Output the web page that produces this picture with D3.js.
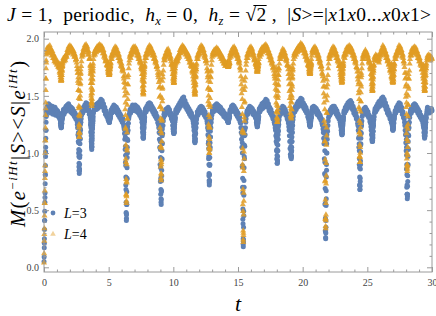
<!DOCTYPE html>
<html><head><meta charset="utf-8">
<script src="https://cdn.jsdelivr.net/npm/d3@7"></script>
<style>body{margin:0;background:#fff}svg{display:block}text{white-space:pre}</style>
</head><body><svg id="c" width="436" height="316"></svg>
<script>
// ---- data ----
const baseStep = 0.05; // base samples at t = 0, 0.05, ... 30 ; mid samples at t = 0.025, 0.075, ...
const valuesL3 = [
0.05,0.41,0.81,1.20,1.37,1.41,1.36,1.43,1.38,1.42,1.35,1.40,1.37,1.41,1.34,1.39,1.36,1.40,1.33,1.38,
1.34,1.37,1.32,1.35,1.31,1.29,1.24,1.23,1.30,1.35,1.38,1.34,1.39,1.36,1.41,1.37,1.42,1.38,1.43,1.39,
1.41,1.36,1.40,1.35,1.39,1.34,1.37,1.32,1.35,1.30,1.33,1.28,1.22,1.10,0.88,0.86,1.12,1.27,1.33,1.38,
1.35,1.40,1.37,1.42,1.39,1.44,1.40,1.43,1.37,1.40,1.34,1.36,1.25,1.10,1.06,1.22,1.32,1.37,1.41,1.38,
1.42,1.38,1.43,1.39,1.44,1.40,1.45,1.41,1.47,1.43,1.46,1.40,1.43,1.37,1.40,1.34,1.37,1.32,1.34,1.29,
1.31,1.27,1.30,1.34,1.38,1.35,1.40,1.37,1.42,1.38,1.41,1.36,1.40,1.35,1.38,1.33,1.36,1.31,1.34,1.29,
1.32,1.27,1.30,1.25,1.21,1.12,0.92,0.48,0.55,1.00,1.20,1.30,1.34,1.38,1.35,1.40,1.37,1.42,1.38,1.41,
1.37,1.42,1.38,1.41,1.36,1.40,1.35,1.38,1.33,1.36,1.31,1.30,1.22,1.14,1.16,1.28,1.35,1.39,1.36,1.41,
1.38,1.43,1.39,1.44,1.40,1.43,1.38,1.41,1.36,1.39,1.34,1.37,1.32,1.35,1.30,1.32,1.27,1.25,1.18,1.05,
0.75,0.57,0.80,1.08,1.24,1.31,1.36,1.33,1.38,1.35,1.39,1.36,1.40,1.35,1.38,1.33,1.35,1.30,1.31,1.24,
1.19,1.18,1.27,1.34,1.38,1.35,1.40,1.37,1.42,1.39,1.44,1.41,1.46,1.42,1.48,1.44,1.49,1.43,1.46,1.40,
1.43,1.38,1.41,1.36,1.39,1.34,1.37,1.32,1.35,1.31,1.30,1.26,1.20,1.11,1.12,1.22,1.30,1.36,1.33,1.38,
1.35,1.40,1.36,1.41,1.37,1.40,1.35,1.38,1.33,1.36,1.31,1.33,1.28,1.22,1.08,0.80,0.76,1.05,1.22,1.30,
1.35,1.39,1.36,1.41,1.37,1.42,1.38,1.43,1.39,1.42,1.37,1.41,1.36,1.40,1.35,1.38,1.34,1.37,1.32,1.35,
1.31,1.34,1.30,1.31,1.28,1.27,1.31,1.35,1.38,1.36,1.41,1.37,1.42,1.38,1.41,1.36,1.39,1.34,1.37,1.32,
1.35,1.30,1.33,1.28,1.26,1.18,1.05,0.70,0.20,0.45,0.95,1.16,1.27,1.33,1.37,1.34,1.39,1.36,1.41,1.37,
1.40,1.36,1.39,1.34,1.37,1.33,1.35,1.31,1.30,1.25,1.24,1.29,1.35,1.39,1.36,1.41,1.38,1.43,1.39,1.44,
1.40,1.45,1.41,1.47,1.43,1.46,1.40,1.43,1.37,1.40,1.35,1.38,1.33,1.35,1.30,1.32,1.27,1.25,1.20,1.10,
0.95,0.93,1.12,1.25,1.32,1.37,1.34,1.39,1.36,1.41,1.37,1.40,1.35,1.38,1.33,1.35,1.30,1.31,1.26,1.20,
1.10,0.99,0.96,1.02,1.18,1.29,1.35,1.39,1.36,1.41,1.38,1.43,1.40,1.45,1.41,1.46,1.43,1.48,1.44,1.47,
1.41,1.44,1.39,1.42,1.37,1.40,1.35,1.37,1.32,1.31,1.27,1.24,1.25,1.31,1.36,1.40,1.37,1.41,1.38,1.40,
1.36,1.39,1.34,1.37,1.33,1.35,1.31,1.33,1.29,1.30,1.26,1.24,1.18,1.08,0.82,0.32,0.35,0.85,1.12,1.24,
1.31,1.36,1.33,1.38,1.35,1.40,1.36,1.41,1.37,1.41,1.36,1.39,1.34,1.37,1.32,1.34,1.30,1.31,1.27,1.23,
1.18,1.17,1.24,1.32,1.37,1.35,1.40,1.37,1.42,1.39,1.44,1.40,1.45,1.41,1.46,1.42,1.44,1.38,1.41,1.35,
1.38,1.33,1.35,1.30,1.31,1.26,1.20,1.05,0.72,0.75,1.08,1.24,1.32,1.37,1.34,1.39,1.36,1.40,1.35,1.38,
1.33,1.36,1.31,1.33,1.28,1.26,1.20,1.12,1.11,1.19,1.29,1.35,1.39,1.36,1.41,1.38,1.43,1.40,1.45,1.41,
1.46,1.42,1.48,1.44,1.49,1.44,1.47,1.41,1.44,1.38,1.41,1.35,1.38,1.33,1.35,1.30,1.31,1.27,1.26,1.21,
1.21,1.26,1.33,1.37,1.35,1.40,1.37,1.42,1.39,1.44,1.40,1.43,1.37,1.40,1.34,1.36,1.31,1.30,1.24,1.16,
1.02,0.70,0.62,0.90,1.15,1.27,1.34,1.38,1.35,1.40,1.37,1.42,1.38,1.43,1.39,1.42,1.37,1.40,1.35,1.38,
1.33,1.36,1.31,1.33,1.29,1.30,1.26,1.22,1.15,1.15,1.22,1.31,1.36,1.40,1.37,1.39,1.35,1.38,1.36,1.39,
1.37];
const midValuesL3 = [
0.21,0.61,1.01,1.33,1.39,1.38,1.40,1.40,1.40,1.38,1.37,1.39,1.39,1.37,1.36,1.38,1.38,1.36,1.35,1.36,
1.35,1.34,1.33,1.33,1.30,1.26,1.22,1.26,1.33,1.36,1.36,1.37,1.37,1.39,1.39,1.40,1.40,1.41,1.41,1.40,
1.38,1.38,1.37,1.37,1.36,1.35,1.34,1.33,1.32,1.31,1.30,1.25,1.16,1.00,0.84,0.98,1.20,1.30,1.36,1.36,
1.38,1.38,1.40,1.40,1.41,1.42,1.41,1.40,1.39,1.37,1.35,1.31,1.18,1.06,1.13,1.28,1.35,1.39,1.39,1.40,
1.40,1.41,1.41,1.42,1.42,1.43,1.43,1.44,1.45,1.45,1.43,1.42,1.40,1.39,1.37,1.36,1.35,1.33,1.31,1.30,
1.29,1.28,1.32,1.36,1.37,1.38,1.39,1.40,1.40,1.40,1.39,1.38,1.38,1.37,1.36,1.35,1.34,1.33,1.32,1.31,
1.30,1.29,1.28,1.23,1.17,1.03,0.72,0.43,0.78,1.11,1.26,1.32,1.36,1.37,1.38,1.39,1.40,1.40,1.40,1.39,
1.40,1.40,1.40,1.39,1.38,1.38,1.37,1.36,1.35,1.34,1.31,1.27,1.18,1.13,1.22,1.32,1.37,1.38,1.39,1.40,
1.41,1.41,1.42,1.42,1.42,1.41,1.40,1.39,1.38,1.37,1.36,1.35,1.34,1.33,1.31,1.30,1.26,1.22,1.12,0.90,
0.64,0.66,0.95,1.17,1.28,1.34,1.35,1.36,1.37,1.37,1.38,1.38,1.38,1.37,1.36,1.34,1.33,1.31,1.28,1.21,
1.17,1.22,1.31,1.36,1.37,1.38,1.39,1.40,1.41,1.42,1.43,1.44,1.44,1.45,1.46,1.47,1.46,1.45,1.43,1.42,
1.41,1.40,1.39,1.38,1.37,1.36,1.35,1.34,1.33,1.31,1.28,1.23,1.15,1.10,1.17,1.26,1.33,1.35,1.36,1.37,
1.38,1.38,1.39,1.39,1.39,1.38,1.37,1.36,1.35,1.34,1.32,1.31,1.26,1.16,0.95,0.74,0.90,1.14,1.27,1.33,
1.37,1.38,1.39,1.39,1.40,1.40,1.41,1.41,1.41,1.40,1.39,1.39,1.38,1.38,1.37,1.36,1.35,1.35,1.34,1.33,
1.32,1.32,1.30,1.29,1.27,1.29,1.33,1.37,1.37,1.38,1.39,1.40,1.40,1.40,1.39,1.38,1.37,1.36,1.35,1.34,
1.33,1.32,1.31,1.27,1.22,1.12,0.88,0.42,0.22,0.70,1.06,1.22,1.30,1.35,1.36,1.37,1.38,1.39,1.39,1.39,
1.38,1.38,1.37,1.36,1.35,1.34,1.33,1.31,1.27,1.23,1.26,1.32,1.37,1.38,1.39,1.40,1.41,1.41,1.42,1.42,
1.43,1.43,1.44,1.45,1.45,1.43,1.42,1.40,1.39,1.37,1.37,1.35,1.34,1.32,1.31,1.29,1.26,1.22,1.15,1.02,
0.91,1.02,1.19,1.29,1.35,1.36,1.37,1.38,1.39,1.39,1.38,1.38,1.37,1.36,1.34,1.33,1.31,1.28,1.23,1.15,
1.04,0.97,0.98,1.10,1.24,1.32,1.37,1.38,1.39,1.40,1.41,1.42,1.43,1.43,1.44,1.45,1.46,1.46,1.45,1.44,
1.43,1.42,1.41,1.40,1.39,1.38,1.36,1.35,1.31,1.29,1.25,1.24,1.28,1.34,1.38,1.39,1.39,1.40,1.39,1.38,
1.38,1.37,1.36,1.35,1.34,1.33,1.32,1.31,1.30,1.28,1.25,1.21,1.13,0.95,0.55,0.26,0.60,1.00,1.19,1.28,
1.34,1.35,1.36,1.37,1.38,1.38,1.39,1.39,1.39,1.39,1.38,1.37,1.36,1.35,1.33,1.32,1.31,1.29,1.25,1.20,
1.16,1.20,1.28,1.35,1.36,1.38,1.39,1.40,1.41,1.42,1.42,1.43,1.43,1.44,1.44,1.43,1.41,1.40,1.38,1.37,
1.36,1.34,1.33,1.31,1.29,1.24,1.13,0.90,0.68,0.90,1.17,1.28,1.35,1.36,1.37,1.38,1.38,1.38,1.37,1.36,
1.35,1.34,1.32,1.31,1.27,1.23,1.16,1.10,1.14,1.24,1.32,1.37,1.38,1.39,1.40,1.41,1.42,1.43,1.43,1.44,
1.44,1.45,1.46,1.47,1.47,1.46,1.44,1.43,1.41,1.40,1.38,1.37,1.36,1.34,1.33,1.31,1.29,1.27,1.24,1.20,
1.23,1.30,1.35,1.36,1.38,1.39,1.40,1.41,1.42,1.42,1.42,1.40,1.39,1.37,1.35,1.34,1.31,1.27,1.20,1.09,
0.86,0.64,0.75,1.03,1.22,1.31,1.36,1.37,1.38,1.39,1.40,1.40,1.41,1.41,1.41,1.40,1.39,1.38,1.37,1.36,
1.35,1.34,1.32,1.31,1.30,1.28,1.24,1.18,1.13,1.18,1.27,1.34,1.38,1.38,1.38,1.37,1.37,1.37,1.38,1.38];
const valuesL4 = [
0.04,0.56,1.11,1.65,1.88,1.92,1.87,1.93,1.89,1.94,1.88,1.91,1.85,1.89,1.83,1.86,1.80,1.84,1.79,1.81,
1.77,1.80,1.75,1.76,1.71,1.68,1.64,1.64,1.72,1.79,1.83,1.80,1.84,1.81,1.86,1.84,1.90,1.87,1.93,1.89,
1.94,1.90,1.93,1.88,1.91,1.86,1.89,1.84,1.86,1.81,1.82,1.76,1.70,1.55,1.22,1.18,1.50,1.70,1.80,1.87,
1.85,1.91,1.88,1.94,1.90,1.95,1.90,1.93,1.86,1.89,1.82,1.82,1.70,1.50,1.45,1.65,1.78,1.85,1.89,1.86,
1.91,1.88,1.93,1.89,1.94,1.90,1.95,1.91,1.94,1.90,1.93,1.87,1.90,1.84,1.86,1.80,1.82,1.77,1.76,1.71,
1.70,1.68,1.73,1.79,1.85,1.82,1.88,1.85,1.91,1.87,1.93,1.88,1.92,1.86,1.89,1.83,1.86,1.80,1.82,1.76,
1.78,1.72,1.74,1.67,1.62,1.50,1.22,0.64,0.74,1.30,1.60,1.74,1.81,1.86,1.83,1.89,1.86,1.92,1.88,1.93,
1.89,1.93,1.88,1.91,1.85,1.88,1.82,1.85,1.79,1.81,1.75,1.73,1.64,1.53,1.55,1.70,1.80,1.86,1.83,1.89,
1.86,1.92,1.88,1.94,1.90,1.93,1.87,1.90,1.85,1.88,1.82,1.85,1.79,1.81,1.75,1.76,1.70,1.66,1.57,1.40,
1.05,0.78,1.10,1.45,1.66,1.77,1.84,1.81,1.87,1.84,1.90,1.86,1.91,1.85,1.88,1.82,1.84,1.77,1.77,1.69,
1.63,1.62,1.70,1.78,1.82,1.79,1.83,1.80,1.86,1.84,1.90,1.87,1.92,1.89,1.94,1.90,1.93,1.88,1.91,1.86,
1.89,1.84,1.87,1.82,1.85,1.79,1.82,1.76,1.78,1.72,1.70,1.64,1.58,1.52,1.54,1.67,1.78,1.85,1.82,1.88,
1.86,1.92,1.89,1.94,1.90,1.93,1.87,1.90,1.84,1.86,1.80,1.81,1.74,1.66,1.45,1.08,1.03,1.42,1.66,1.77,
1.84,1.88,1.85,1.90,1.86,1.91,1.87,1.92,1.88,1.91,1.86,1.89,1.84,1.87,1.82,1.85,1.80,1.83,1.78,1.80,
1.76,1.79,1.77,1.78,1.76,1.75,1.78,1.83,1.87,1.84,1.90,1.86,1.92,1.88,1.93,1.88,1.91,1.85,1.88,1.82,
1.85,1.79,1.81,1.75,1.72,1.60,1.40,0.90,0.24,0.58,1.28,1.58,1.72,1.80,1.86,1.83,1.89,1.86,1.92,1.88,
1.93,1.88,1.91,1.85,1.87,1.81,1.83,1.78,1.77,1.72,1.71,1.76,1.82,1.87,1.84,1.90,1.86,1.92,1.88,1.93,
1.89,1.94,1.90,1.95,1.91,1.93,1.87,1.90,1.84,1.87,1.81,1.84,1.78,1.80,1.74,1.75,1.69,1.65,1.56,1.44,
1.31,1.28,1.50,1.68,1.78,1.85,1.82,1.88,1.85,1.91,1.87,1.90,1.84,1.87,1.81,1.83,1.77,1.76,1.69,1.60,
1.48,1.35,1.31,1.38,1.58,1.73,1.82,1.87,1.84,1.89,1.86,1.91,1.88,1.93,1.89,1.94,1.91,1.96,1.92,1.95,
1.90,1.93,1.87,1.90,1.84,1.87,1.81,1.83,1.77,1.76,1.71,1.69,1.70,1.78,1.85,1.90,1.87,1.92,1.89,1.93,
1.88,1.91,1.85,1.88,1.82,1.85,1.79,1.81,1.75,1.76,1.70,1.67,1.58,1.44,1.10,0.42,0.46,1.15,1.50,1.68,
1.78,1.85,1.82,1.88,1.85,1.91,1.87,1.93,1.89,1.92,1.86,1.89,1.83,1.86,1.80,1.82,1.76,1.76,1.70,1.66,
1.63,1.62,1.70,1.80,1.86,1.83,1.89,1.86,1.92,1.88,1.93,1.89,1.94,1.90,1.93,1.88,1.91,1.85,1.88,1.82,
1.85,1.79,1.81,1.75,1.74,1.67,1.60,1.40,0.97,1.00,1.45,1.68,1.78,1.85,1.82,1.88,1.85,1.90,1.85,1.88,
1.82,1.85,1.79,1.81,1.75,1.73,1.65,1.56,1.55,1.66,1.77,1.84,1.81,1.86,1.82,1.85,1.80,1.83,1.79,1.84,
1.88,1.85,1.91,1.88,1.94,1.89,1.92,1.86,1.89,1.83,1.86,1.80,1.82,1.77,1.78,1.72,1.72,1.67,1.65,1.62,
1.62,1.68,1.78,1.85,1.82,1.88,1.85,1.91,1.88,1.94,1.90,1.93,1.87,1.90,1.84,1.86,1.80,1.78,1.70,1.58,
1.40,0.95,0.86,1.25,1.56,1.72,1.82,1.88,1.85,1.91,1.87,1.92,1.88,1.93,1.89,1.92,1.86,1.89,1.83,1.86,
1.80,1.83,1.77,1.79,1.73,1.73,1.67,1.62,1.56,1.55,1.62,1.74,1.81,1.85,1.82,1.86,1.82,1.85,1.81,1.84,
1.82];
const midValuesL4 = [
0.29,0.84,1.39,1.79,1.90,1.90,1.90,1.91,1.92,1.91,1.90,1.88,1.87,1.86,1.85,1.83,1.82,1.81,1.80,1.79,
1.78,1.78,1.76,1.74,1.70,1.66,1.63,1.68,1.76,1.81,1.82,1.82,1.83,1.84,1.85,1.87,1.88,1.90,1.91,1.92,
1.92,1.92,1.91,1.90,1.89,1.88,1.87,1.85,1.84,1.82,1.79,1.73,1.63,1.39,1.14,1.34,1.61,1.76,1.84,1.86,
1.88,1.90,1.91,1.92,1.93,1.93,1.92,1.90,1.88,1.86,1.83,1.77,1.61,1.44,1.55,1.72,1.82,1.87,1.88,1.89,
1.90,1.91,1.91,1.92,1.92,1.93,1.93,1.93,1.92,1.92,1.90,1.89,1.87,1.85,1.83,1.81,1.80,1.77,1.73,1.70,
1.68,1.70,1.76,1.82,1.84,1.85,1.87,1.88,1.89,1.90,1.91,1.90,1.89,1.88,1.86,1.85,1.83,1.81,1.79,1.77,
1.75,1.73,1.71,1.65,1.57,1.38,0.95,0.58,1.02,1.47,1.68,1.78,1.84,1.85,1.86,1.88,1.89,1.90,1.91,1.91,
1.91,1.90,1.90,1.88,1.87,1.85,1.84,1.82,1.80,1.78,1.74,1.69,1.58,1.52,1.63,1.76,1.83,1.85,1.86,1.87,
1.89,1.90,1.91,1.92,1.92,1.90,1.89,1.87,1.86,1.85,1.83,1.82,1.80,1.78,1.76,1.73,1.68,1.62,1.49,1.22,
0.88,0.90,1.29,1.57,1.72,1.81,1.83,1.84,1.86,1.87,1.88,1.89,1.88,1.87,1.85,1.83,1.80,1.78,1.73,1.65,
1.61,1.66,1.74,1.80,1.81,1.81,1.82,1.83,1.85,1.87,1.88,1.90,1.91,1.92,1.92,1.92,1.91,1.90,1.89,1.88,
1.87,1.86,1.85,1.84,1.82,1.81,1.79,1.77,1.75,1.71,1.67,1.61,1.54,1.51,1.60,1.73,1.82,1.84,1.85,1.87,
1.89,1.90,1.91,1.92,1.92,1.90,1.89,1.87,1.85,1.83,1.81,1.78,1.71,1.56,1.25,1.00,1.22,1.55,1.72,1.81,
1.86,1.87,1.88,1.88,1.89,1.89,1.90,1.90,1.90,1.89,1.88,1.87,1.86,1.85,1.84,1.83,1.82,1.81,1.79,1.78,
1.78,1.78,1.77,1.77,1.75,1.76,1.81,1.85,1.86,1.87,1.88,1.89,1.90,1.91,1.91,1.90,1.88,1.87,1.85,1.84,
1.82,1.80,1.78,1.74,1.67,1.52,1.18,0.55,0.28,0.95,1.45,1.66,1.77,1.83,1.85,1.86,1.88,1.89,1.90,1.91,
1.91,1.90,1.88,1.86,1.84,1.82,1.81,1.78,1.75,1.71,1.73,1.79,1.85,1.86,1.87,1.88,1.89,1.90,1.91,1.91,
1.92,1.92,1.93,1.93,1.92,1.90,1.89,1.87,1.86,1.84,1.83,1.81,1.79,1.77,1.75,1.72,1.67,1.61,1.50,1.36,
1.27,1.38,1.60,1.74,1.82,1.84,1.85,1.86,1.88,1.89,1.88,1.87,1.86,1.84,1.82,1.80,1.77,1.73,1.65,1.54,
1.41,1.32,1.33,1.48,1.66,1.78,1.85,1.86,1.87,1.88,1.89,1.90,1.91,1.92,1.92,1.93,1.94,1.94,1.94,1.93,
1.92,1.90,1.89,1.87,1.86,1.84,1.82,1.80,1.77,1.73,1.70,1.69,1.74,1.82,1.88,1.89,1.90,1.91,1.91,1.91,
1.90,1.88,1.87,1.85,1.84,1.82,1.80,1.78,1.76,1.73,1.69,1.63,1.52,1.28,0.75,0.36,0.80,1.35,1.60,1.74,
1.82,1.84,1.85,1.87,1.88,1.89,1.90,1.91,1.91,1.89,1.88,1.86,1.85,1.83,1.81,1.79,1.77,1.73,1.68,1.64,
1.61,1.65,1.76,1.84,1.85,1.86,1.88,1.89,1.90,1.91,1.91,1.92,1.92,1.92,1.91,1.90,1.88,1.87,1.85,1.84,
1.82,1.80,1.78,1.75,1.71,1.64,1.52,1.18,0.92,1.22,1.58,1.74,1.82,1.84,1.85,1.87,1.88,1.88,1.87,1.85,
1.84,1.82,1.80,1.78,1.74,1.69,1.60,1.54,1.60,1.72,1.81,1.83,1.84,1.84,1.84,1.83,1.82,1.81,1.82,1.86,
1.87,1.88,1.90,1.91,1.92,1.91,1.89,1.88,1.86,1.85,1.83,1.81,1.80,1.78,1.75,1.73,1.70,1.66,1.63,1.61,
1.64,1.73,1.82,1.84,1.85,1.87,1.88,1.90,1.91,1.92,1.92,1.90,1.89,1.87,1.85,1.83,1.80,1.75,1.65,1.49,
1.17,0.88,1.05,1.42,1.65,1.78,1.85,1.86,1.88,1.89,1.90,1.90,1.91,1.91,1.91,1.89,1.88,1.86,1.85,1.83,
1.82,1.80,1.78,1.76,1.73,1.70,1.65,1.59,1.54,1.58,1.68,1.78,1.83,1.84,1.84,1.84,1.84,1.83,1.83,1.83];

// finely sampled initial rise, t = 0.01 ... 0.18
const fineStep = 0.01;
const riseL3 = [0.09,0.17,0.25,0.33,0.41,0.49,0.57,0.65,0.73,0.81,0.89,0.97,1.05,1.13,1.20,1.27,1.32,1.36];
const riseL4 = [0.12,0.23,0.34,0.45,0.56,0.67,0.78,0.89,1.00,1.11,1.22,1.33,1.44,1.55,1.65,1.74,1.81,1.86];

// finely sampled dips: centre times, samples from centre-0.10 to centre+0.10
const dipCenters = [1.33,2.73,3.69,5.05,6.37,7.68,9.06,10.05,11.67,12.78,14.25,15.41,16.50,18.04,19.12,20.57,21.78,23.05,24.43,25.40,26.98,28.09,29.44];
const dipL3 = [
[1.32,1.31,1.31,1.30,1.29,1.28,1.27,1.25,1.24,1.23,1.22,1.23,1.24,1.25,1.26,1.28,1.29,1.30,1.31,1.31,1.32],
[1.28,1.25,1.22,1.18,1.14,1.09,1.03,0.97,0.91,0.85,0.82,0.85,0.90,0.96,1.02,1.08,1.13,1.17,1.21,1.25,1.27],
[1.30,1.29,1.27,1.24,1.22,1.19,1.15,1.12,1.08,1.05,1.03,1.05,1.08,1.11,1.15,1.18,1.21,1.24,1.26,1.28,1.30],
[1.32,1.32,1.32,1.31,1.31,1.30,1.29,1.29,1.28,1.27,1.27,1.27,1.28,1.29,1.29,1.30,1.31,1.31,1.32,1.32,1.32],
[1.24,1.19,1.14,1.06,0.98,0.89,0.79,0.68,0.57,0.47,0.41,0.46,0.55,0.66,0.77,0.87,0.96,1.05,1.12,1.18,1.23],
[1.31,1.30,1.29,1.27,1.25,1.23,1.21,1.19,1.16,1.14,1.13,1.14,1.16,1.18,1.21,1.23,1.25,1.27,1.28,1.30,1.31],
[1.25,1.21,1.17,1.10,1.03,0.96,0.87,0.78,0.68,0.60,0.55,0.59,0.67,0.76,0.85,0.94,1.02,1.09,1.15,1.21,1.24],
[1.31,1.31,1.30,1.28,1.27,1.25,1.24,1.22,1.20,1.18,1.17,1.18,1.19,1.21,1.23,1.25,1.27,1.28,1.29,1.30,1.31],
[1.31,1.29,1.28,1.26,1.24,1.22,1.19,1.16,1.13,1.10,1.09,1.10,1.13,1.16,1.18,1.21,1.23,1.26,1.28,1.29,1.30],
[1.27,1.24,1.20,1.15,1.10,1.04,0.97,0.90,0.82,0.76,0.72,0.75,0.81,0.89,0.96,1.03,1.09,1.14,1.19,1.23,1.26],
[1.32,1.32,1.32,1.31,1.31,1.30,1.29,1.29,1.28,1.27,1.27,1.27,1.28,1.29,1.29,1.30,1.31,1.31,1.32,1.32,1.32],
[1.22,1.16,1.09,1.00,0.89,0.78,0.65,0.51,0.38,0.25,0.18,0.24,0.35,0.49,0.63,0.76,0.87,0.97,1.07,1.15,1.20],
[1.32,1.32,1.31,1.30,1.29,1.28,1.27,1.26,1.25,1.24,1.23,1.24,1.25,1.26,1.27,1.28,1.29,1.30,1.31,1.31,1.32],
[1.29,1.27,1.24,1.21,1.17,1.13,1.08,1.03,0.98,0.94,0.91,0.93,0.97,1.02,1.07,1.12,1.16,1.20,1.23,1.26,1.28],
[1.29,1.27,1.25,1.22,1.19,1.15,1.11,1.06,1.02,0.97,0.95,0.97,1.01,1.05,1.10,1.14,1.18,1.21,1.24,1.27,1.29],
[1.32,1.32,1.31,1.30,1.29,1.28,1.27,1.26,1.25,1.24,1.23,1.24,1.25,1.26,1.27,1.28,1.29,1.30,1.31,1.31,1.32],
[1.22,1.17,1.10,1.02,0.92,0.81,0.69,0.56,0.43,0.31,0.25,0.30,0.41,0.54,0.67,0.79,0.90,1.00,1.08,1.16,1.21],
[1.31,1.30,1.29,1.28,1.27,1.25,1.23,1.21,1.19,1.17,1.16,1.17,1.19,1.21,1.23,1.25,1.26,1.28,1.29,1.30,1.31],
[1.27,1.23,1.19,1.14,1.08,1.02,0.95,0.87,0.79,0.72,0.68,0.71,0.78,0.86,0.93,1.01,1.07,1.13,1.18,1.23,1.26],
[1.31,1.30,1.28,1.26,1.24,1.22,1.19,1.17,1.14,1.11,1.10,1.11,1.13,1.16,1.19,1.22,1.24,1.26,1.28,1.29,1.31],
[1.32,1.31,1.30,1.29,1.28,1.27,1.25,1.24,1.22,1.21,1.20,1.21,1.22,1.23,1.25,1.27,1.28,1.29,1.30,1.31,1.32],
[1.26,1.22,1.18,1.12,1.05,0.98,0.90,0.81,0.72,0.64,0.60,0.64,0.71,0.80,0.89,0.97,1.04,1.10,1.16,1.21,1.25],
[1.31,1.30,1.29,1.28,1.26,1.24,1.22,1.20,1.17,1.15,1.14,1.15,1.17,1.19,1.21,1.24,1.25,1.27,1.29,1.30,1.31]];
const dipL4 = [
[1.78,1.77,1.76,1.75,1.74,1.72,1.70,1.68,1.66,1.64,1.63,1.64,1.66,1.68,1.70,1.72,1.73,1.75,1.76,1.77,1.78],
[1.73,1.70,1.66,1.61,1.55,1.48,1.41,1.33,1.25,1.18,1.14,1.17,1.24,1.32,1.40,1.47,1.54,1.60,1.65,1.69,1.73],
[1.76,1.74,1.72,1.69,1.65,1.61,1.57,1.52,1.48,1.43,1.41,1.43,1.47,1.52,1.56,1.61,1.64,1.68,1.71,1.74,1.76],
[1.79,1.78,1.77,1.77,1.75,1.74,1.73,1.72,1.70,1.69,1.68,1.69,1.70,1.71,1.73,1.74,1.75,1.76,1.77,1.78,1.79],
[1.68,1.61,1.54,1.44,1.33,1.21,1.07,0.92,0.77,0.63,0.56,0.62,0.75,0.90,1.04,1.18,1.30,1.42,1.52,1.60,1.66],
[1.77,1.76,1.74,1.72,1.69,1.66,1.63,1.59,1.56,1.53,1.51,1.52,1.55,1.59,1.62,1.66,1.68,1.71,1.73,1.75,1.77],
[1.70,1.64,1.58,1.50,1.41,1.30,1.19,1.06,0.94,0.82,0.76,0.81,0.92,1.04,1.17,1.28,1.38,1.48,1.56,1.63,1.69],
[1.78,1.77,1.76,1.75,1.73,1.71,1.69,1.67,1.64,1.62,1.61,1.62,1.64,1.66,1.68,1.71,1.72,1.74,1.76,1.77,1.78],
[1.77,1.76,1.74,1.72,1.69,1.66,1.63,1.59,1.56,1.53,1.51,1.52,1.55,1.59,1.62,1.66,1.68,1.71,1.73,1.75,1.77],
[1.72,1.68,1.63,1.57,1.50,1.42,1.33,1.23,1.14,1.05,1.00,1.04,1.12,1.22,1.31,1.40,1.48,1.55,1.62,1.67,1.71],
[1.79,1.79,1.79,1.78,1.78,1.78,1.77,1.77,1.76,1.76,1.75,1.76,1.76,1.77,1.77,1.78,1.78,1.78,1.79,1.79,1.79],
[1.64,1.56,1.47,1.34,1.20,1.04,0.87,0.68,0.49,0.32,0.22,0.30,0.46,0.65,0.84,1.01,1.17,1.31,1.44,1.55,1.63],
[1.79,1.79,1.78,1.77,1.77,1.76,1.75,1.74,1.73,1.72,1.71,1.71,1.72,1.73,1.74,1.75,1.76,1.77,1.78,1.79,1.79],
[1.75,1.72,1.69,1.65,1.60,1.55,1.49,1.42,1.36,1.30,1.27,1.30,1.35,1.41,1.48,1.54,1.59,1.64,1.68,1.72,1.74],
[1.75,1.73,1.70,1.66,1.61,1.56,1.51,1.45,1.39,1.33,1.30,1.33,1.38,1.44,1.50,1.55,1.60,1.65,1.69,1.72,1.75],
[1.79,1.78,1.78,1.77,1.76,1.75,1.73,1.72,1.71,1.70,1.69,1.70,1.71,1.72,1.73,1.75,1.76,1.77,1.77,1.78,1.79],
[1.65,1.58,1.49,1.38,1.25,1.10,0.94,0.76,0.59,0.43,0.34,0.41,0.56,0.73,0.91,1.07,1.22,1.35,1.46,1.57,1.64],
[1.78,1.77,1.76,1.75,1.73,1.71,1.69,1.67,1.65,1.63,1.62,1.63,1.65,1.67,1.69,1.71,1.73,1.74,1.76,1.77,1.78],
[1.71,1.67,1.62,1.55,1.47,1.38,1.28,1.18,1.07,0.97,0.92,0.96,1.05,1.16,1.26,1.36,1.45,1.53,1.60,1.66,1.70],
[1.77,1.76,1.75,1.73,1.70,1.68,1.65,1.62,1.58,1.56,1.54,1.55,1.58,1.61,1.64,1.67,1.70,1.72,1.74,1.76,1.77],
[1.78,1.77,1.76,1.75,1.73,1.71,1.69,1.67,1.65,1.63,1.62,1.63,1.65,1.67,1.69,1.71,1.73,1.74,1.76,1.77,1.78],
[1.70,1.66,1.60,1.52,1.44,1.34,1.23,1.12,1.00,0.90,0.84,0.89,0.98,1.10,1.21,1.32,1.42,1.50,1.58,1.65,1.69],
[1.77,1.76,1.75,1.73,1.70,1.68,1.65,1.62,1.58,1.56,1.54,1.55,1.58,1.61,1.64,1.67,1.70,1.72,1.74,1.76,1.77]];
const dipHalfWidth = 0.10;

const xTicks = [0,5,10,15,20,25,30];
const yTicks = [0,0.5,1.0,1.5,2.0];
const seriesNames = ["L=3","L=4"];

// ---- build point lists ----
function buildPoints(base, mid, rise, dips){
  const pts = [];
  base.forEach((v,i)=>pts.push({t:i*baseStep, v}));
  mid.forEach((v,i)=>pts.push({t:(i+0.5)*baseStep, v}));
  rise.forEach((v,i)=>pts.push({t:(i+1)*fineStep, v}));
  dips.forEach((arr,k)=>arr.forEach((v,i)=>pts.push({t:dipCenters[k]-dipHalfWidth+i*fineStep, v})));
  return pts;
}
const ptsL3 = buildPoints(valuesL3, midValuesL3, riseL3, dipL3);
const ptsL4 = buildPoints(valuesL4, midValuesL4, riseL4, dipL4);

// ---- drawing ----
const svg = d3.select("#c");
const W=436,H=316;
const L=44,R=432,T=32,B=272;
const x = d3.scaleLinear().domain([0,30]).range([L,R]);
const y = d3.scaleLinear().domain([0,2]).range([267.3,38.7]);
const serif = "'Liberation Serif','Times New Roman',Times,serif";
const blue = "#5E81B5", orange = "#E19C24", frameCol = "#9a9a9a", labCol = "#444";

svg.append("rect").attr("width",W).attr("height",H).attr("fill","#fff");

// points
svg.append("g").selectAll("circle").data(ptsL3).join("circle")
  .attr("cx",d=>x(d.t)).attr("cy",d=>y(d.v)).attr("r",2.5).attr("fill",blue);
const tri = d3.symbol().type(d3.symbolTriangle).size(16);
svg.append("g").selectAll("path").data(ptsL4).join("path")
  .attr("d",tri).attr("transform",d=>`translate(${x(d.t)},${y(d.v)})`)
  .attr("fill",orange).attr("fill-opacity",0.85);

// frame
svg.append("rect").attr("x",L).attr("y",T).attr("width",R-L).attr("height",B-T)
  .attr("fill","none").attr("stroke",frameCol).attr("stroke-width",1);

const yMinor = d3.range(0,2.001,0.1).filter(v=>Math.abs(v*2-Math.round(v*2))>1e-6);
const xMinor = d3.range(0,30.001,1).filter(v=>v%5!==0);
function styleAxis(g){
  g.select(".domain").remove();
  g.selectAll("line").attr("stroke",frameCol);
  g.selectAll("text").attr("fill",labCol).style("font-family",serif).style("font-size","10px");
}
svg.append("g").attr("transform",`translate(0,${B})`)
  .call(d3.axisBottom(x).tickValues(xTicks).tickSize(-5).tickPadding(7).tickFormat(d3.format("d"))).call(styleAxis);
svg.append("g").attr("transform",`translate(0,${B})`)
  .call(d3.axisBottom(x).tickValues(xMinor).tickSize(-2.5).tickFormat("")).call(styleAxis);
svg.append("g").attr("transform",`translate(0,${T})`)
  .call(d3.axisTop(x).tickValues(xTicks).tickSize(-5).tickFormat("")).call(styleAxis);
svg.append("g").attr("transform",`translate(0,${T})`)
  .call(d3.axisTop(x).tickValues(xMinor).tickSize(-2.5).tickFormat("")).call(styleAxis);
svg.append("g").attr("transform",`translate(${L},0)`)
  .call(d3.axisLeft(y).tickValues(yTicks).tickSize(-5).tickPadding(5).tickFormat(d3.format(".1f"))).call(styleAxis);
svg.append("g").attr("transform",`translate(${L},0)`)
  .call(d3.axisLeft(y).tickValues(yMinor).tickSize(-2.5).tickFormat("")).call(styleAxis);
svg.append("g").attr("transform",`translate(${R},0)`)
  .call(d3.axisRight(y).tickValues(yTicks).tickSize(-5).tickFormat("")).call(styleAxis);
svg.append("g").attr("transform",`translate(${R},0)`)
  .call(d3.axisRight(y).tickValues(yMinor).tickSize(-2.5).tickFormat("")).call(styleAxis);

// text helpers
function addParts(textSel, parts){
  parts.forEach(p=>{
    const ts = textSel.append("tspan").text(p.s);
    if(p.i) ts.style("font-style","italic");
    if(p.fs) ts.style("font-size",p.fs+"px");
    if(p.dy) ts.attr("dy",p.dy);
    if(p.id) ts.attr("id",p.id);
  });
}
// title
const title = svg.append("text").attr("x",7).attr("y",21)
  .attr("textLength",424).attr("lengthAdjust","spacing")
  .style("font-family",serif).style("font-size","19.5px").attr("fill","#000");
addParts(title,[
  {s:"J",i:1},{s:" = 1,  periodic,  "},
  {s:"h",i:1},{s:"x",i:1,fs:12.5,dy:4},{s:" = 0,  ",dy:-4},
  {s:"h",i:1},{s:"z",i:1,fs:12.5,dy:4},{s:" = ",dy:-4},
  {s:"√"},{s:"2",id:"sq2"},{s:" ,  |"},
  {s:"S",i:1},{s:">=|"},
  {s:"x",i:1},{s:"1"},{s:"x",i:1},{s:"0..."},{s:"x",i:1},{s:"0"},{s:"x",i:1},{s:"1>"}
]);
try{
  const sq = document.getElementById("sq2");
  const p1 = sq.getEndPositionOfChar(0);
  const tn = title.node();
  const pr = tn.getStartPositionOfChar(tn.textContent.indexOf("√"));
  svg.append("line").attr("x1",pr.x+8).attr("x2",p1.x+0.5).attr("y1",5.5).attr("y2",5.5)
    .attr("stroke","#000").attr("stroke-width",1);
}catch(e){}

// y label
const yl = svg.append("text").attr("transform","translate(25,144) rotate(-90)")
  .attr("text-anchor","middle").attr("textLength",166).attr("lengthAdjust","spacing")
  .style("font-family",serif).style("font-size","20.5px");
addParts(yl,[
  {s:"M",i:1},{s:"("},{s:"e",i:1},{s:"−",fs:13,dy:-8.5},{s:"iHt",i:1,fs:13},
  {s:"|",dy:8.5},{s:"S",i:1},{s:"><"},{s:"S",i:1},{s:"|"},{s:"e",i:1},
  {s:"iHt",i:1,fs:13,dy:-8.5},{s:")",dy:8.5}
]);

// x label
svg.append("text").attr("x",238).attr("y",311).attr("text-anchor","middle")
  .style("font-family",serif).style("font-size","22px").style("font-style","italic").text("t");

// legend
const lg = svg.append("g");
lg.append("circle").attr("cx",53).attr("cy",213).attr("r",2.4).attr("fill",blue);
lg.append("path").attr("d",d3.symbol().type(d3.symbolTriangle).size(14)()).attr("transform","translate(53,234)")
  .attr("fill",orange).attr("fill-opacity",0.45);
[[seriesNames[0],218],[seriesNames[1],239]].forEach(([s,yy])=>{
  const t = lg.append("text").attr("x",64).attr("y",yy).style("font-family",serif).style("font-size","14px");
  addParts(t,[{s:s.slice(0,1),i:1},{s:s.slice(1)}]);
});
</script></body></html>
